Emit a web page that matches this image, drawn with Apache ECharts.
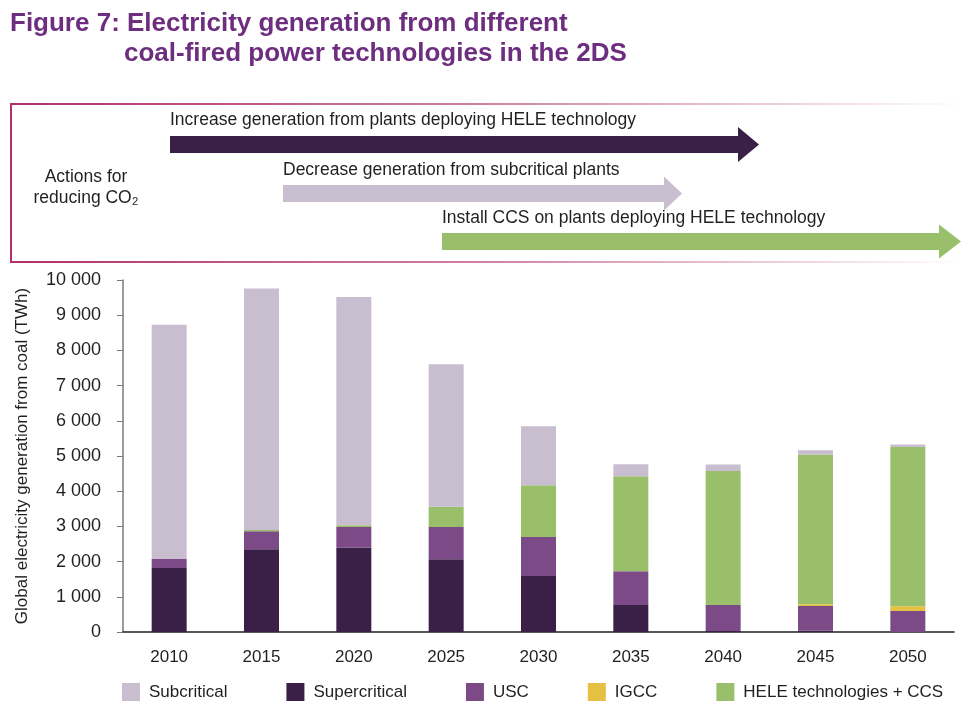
<!DOCTYPE html>
<html>
<head>
<meta charset="utf-8">
<script src="https://cdn.jsdelivr.net/npm/echarts@6/dist/echarts.min.js"></script>
<style>
  html, body { margin: 0; padding: 0; background: #ffffff; }
  #chart { width: 964px; height: 720px; }
</style>
</head>
<body>
<div id="chart"></div>
<script>
// Values (TWh)
var years = ["2010", "2015", "2020", "2025", "2030", "2035", "2040", "2045", "2050"];
var supercritical = [1820, 2350, 2400, 2065, 1590, 770, 30, 40, 0];
var usc = [255, 510, 585, 920, 1110, 955, 740, 700, 600];
var igcc = [0, 0, 0, 0, 0, 0, 0, 45, 130];
var heleCcs = [0, 35, 50, 570, 1470, 2700, 3805, 4260, 4525];
var subcritical = [6655, 6865, 6485, 4050, 1675, 340, 180, 115, 75];
var seriesNames = ["Subcritical", "Supercritical", "USC", "IGCC", "HELE technologies + CCS"];

var colors = {
  subcritical: "#c9bdd0",
  supercritical: "#3a1f47",
  usc: "#7d4a88",
  igcc: "#e6c043",
  hele: "#9abf6b"
};

var fontBody = "'Liberation Sans', Arial, sans-serif";
var textColor = "#231f20";
var titleColor = "#6d2e80";

function formatThousands(v) {
  return String(v).replace(/\B(?=(\d{3})+(?!\d))/g, " ");
}

function barSeries(name, data, color) {
  return {
    name: name,
    type: "bar",
    stack: "total",
    barWidth: 35,
    data: data,
    itemStyle: { color: color },
    emphasis: { disabled: true }
  };
}

function arrow(x0, x1, tip, yMid, half, headHalf, color) {
  return {
    type: "polygon",
    shape: {
      points: [
        [x0, yMid - half], [x1, yMid - half], [x1, yMid - headHalf], [tip, yMid],
        [x1, yMid + headHalf], [x1, yMid + half], [x0, yMid + half]
      ]
    },
    style: { fill: color }
  };
}

function label(text, x, y, align) {
  return {
    type: "text",
    x: x,
    y: y,
    style: {
      text: text,
      fill: textColor,
      font: "17.5px " + fontBody,
      align: align || "left",
      verticalAlign: "middle"
    }
  };
}

// fading frame line for the "actions" box
var frameFade = {
  type: "linear", x: 0, y: 0, x2: 1, y2: 0,
  colorStops: [
    { offset: 0, color: "#b0306a" },
    { offset: 0.5, color: "rgba(176,48,106,0.6)" },
    { offset: 1, color: "rgba(176,48,106,0)" }
  ]
};

var chart = echarts.init(document.getElementById("chart"), null, { width: 964, height: 720 });

var option = {
  animation: false,
  backgroundColor: "#ffffff",
  title: [
    {
      text: "Figure 7: Electricity generation from different",
      left: 5, top: 6,
      textStyle: { fontFamily: fontBody, fontWeight: "bold", fontSize: 26, color: titleColor }
    },
    {
      text: "coal-fired power technologies in the 2DS",
      left: 119, top: 36,
      textStyle: { fontFamily: fontBody, fontWeight: "bold", fontSize: 26, color: titleColor }
    }
  ],
  legend: {
    data: seriesNames,
    left: 122,
    top: 683,
    width: 842,
    padding: 0,
    icon: "rect",
    itemWidth: 18,
    itemHeight: 18,
    itemGap: 59,
    selectedMode: false,
    textStyle: { fontFamily: fontBody, fontSize: 17, color: textColor, padding: [0, 0, 0, 4] }
  },
  grid: { left: 123, right: 10, top: 280, bottom: 88 },
  xAxis: {
    type: "category",
    data: years,
    axisLine: { lineStyle: { color: "#231f20", width: 1.5 } },
    axisTick: { length: 9, lineStyle: { color: "#777777" } },
    axisLabel: { margin: 17, fontFamily: fontBody, fontSize: 17, color: textColor }
  },
  yAxis: {
    type: "value",
    min: 0,
    max: 10000,
    interval: 1000,
    name: "Global electricity generation from coal (TWh)",
    nameLocation: "middle",
    nameRotate: 90,
    nameGap: 92,
    nameTextStyle: { fontFamily: fontBody, fontSize: 17, color: textColor },
    axisLine: { show: true, lineStyle: { color: "#7a7a7a", width: 1.5 } },
    axisTick: { show: true, length: 6, lineStyle: { color: "#7a7a7a" } },
    splitLine: { show: false },
    axisLabel: {
      margin: 22,
      fontFamily: fontBody,
      fontSize: 18,
      color: textColor,
      formatter: formatThousands
    }
  },
  series: [
    barSeries("Supercritical", supercritical, colors.supercritical),
    barSeries("USC", usc, colors.usc),
    barSeries("IGCC", igcc, colors.igcc),
    barSeries("HELE technologies + CCS", heleCcs, colors.hele),
    barSeries("Subcritical", subcritical, colors.subcritical)
  ],
  graphic: [
    { type: "rect", shape: { x: 10, y: 103, width: 2, height: 160 }, style: { fill: "#b0306a" } },
    { type: "rect", shape: { x: 10, y: 103, width: 954, height: 2 }, style: { fill: frameFade } },
    { type: "rect", shape: { x: 10, y: 261, width: 954, height: 2 }, style: { fill: frameFade } },
    arrow(170, 738, 759, 144.5, 8.5, 17.5, colors.supercritical),
    arrow(283, 664, 682, 193.5, 8.5, 17, colors.subcritical),
    arrow(442, 939, 961, 241.5, 8.5, 17, colors.hele),
    label("Increase generation from plants deploying HELE technology", 170, 120),
    label("Decrease generation from subcritical plants", 283, 170),
    label("Install CCS on plants deploying HELE technology", 442, 218),
    label("Actions for", 86, 177, "center"),
    label("reducing CO\u2082", 86, 198, "center")
  ]
};

chart.setOption(option);
</script>
</body>
</html>
